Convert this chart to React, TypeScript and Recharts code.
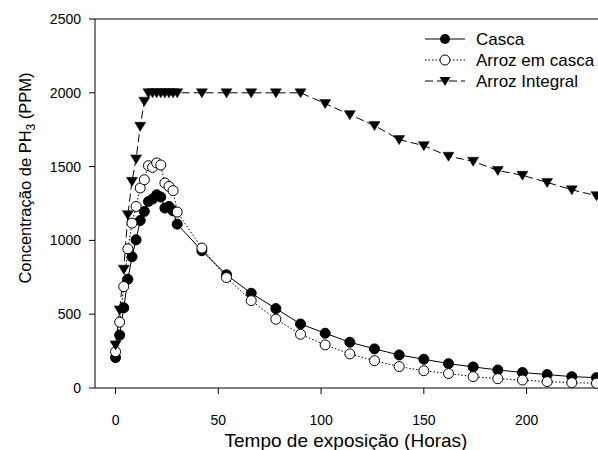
import { LineChart, Line, XAxis, YAxis, ReferenceLine } from 'recharts';

const times = [0, 2, 4, 6, 8, 10, 12, 14, 16, 18, 20, 22, 24, 26, 28, 30, 42, 54, 66, 78, 90, 102, 114, 126, 138, 150, 162, 174, 186, 198, 210, 222, 234];
const casca = [206, 358, 543, 737, 889, 1004, 1135, 1196, 1264, 1280, 1309, 1294, 1219, 1230, 1200, 1110, 930, 767, 642, 538, 434, 371, 310, 265, 224, 195, 165, 143, 122, 105, 91, 77, 70];
const arrozEmCasca = [246, 446, 687, 943, 1117, 1230, 1355, 1411, 1506, 1495, 1525, 1511, 1389, 1366, 1337, 1192, 948, 748, 592, 466, 364, 292, 231, 185, 145, 117, 98, 77, 63, 54, 43, 36, 32];
const arrozIntegral = [292, 529, 805, 1174, 1400, 1552, 1773, 1943, 2000, 2000, 2000, 2000, 2000, 2000, 2000, 2000, 2000, 2000, 2000, 2000, 2000, 1927, 1852, 1778, 1683, 1642, 1570, 1536, 1474, 1441, 1393, 1343, 1303];

const xTicks = [0, 50, 100, 150, 200];
const yTicks = [0, 500, 1000, 1500, 2000, 2500];

const data = times.map((t, i) => ({
  t,
  casca: casca[i],
  emCasca: arrozEmCasca[i],
  integral: arrozIntegral[i],
}));

const FONT = '"Liberation Sans", Arial, sans-serif';

const FilledDot = (p: any) =>
  p.cx == null ? null : <circle key={p.index} cx={p.cx} cy={p.cy} r={5} fill="#000" stroke="#000" strokeWidth={1} />;

const OpenDot = (p: any) =>
  p.cx == null ? null : <circle key={p.index} cx={p.cx} cy={p.cy} r={5} fill="#fff" stroke="#000" strokeWidth={1} />;

const triPath = (cx: number, cy: number) => `M${cx - 5.5},${cy - 4} L${cx + 5.5},${cy - 4} L${cx},${cy + 5} Z`;

const TriDot = (p: any) =>
  p.cx == null ? null : <path key={p.index} d={triPath(p.cx, p.cy)} fill="#000" stroke="#000" strokeWidth={0.5} />;

const legendRows = [
  { name: 'Casca', dash: undefined, kind: 'filled' },
  { name: 'Arroz em casca', dash: '1.5 2', kind: 'open' },
  { name: 'Arroz Integral', dash: '8 4', kind: 'tri' },
];

// legenda desenhada à parte, por cima do gráfico
function ChartLegend() {
  return (
    <svg width={178} height={64} style={{ position: 'absolute', left: 420, top: 28 }}>
      {legendRows.map((r, i) => {
        const y = 11 + i * 21;
        return (
          <g key={r.name}>
            <line x1={5} x2={45} y1={y} y2={y} stroke="#000" strokeWidth={1} strokeDasharray={r.dash} />
            {r.kind === 'filled' && <circle cx={25} cy={y} r={5} fill="#000" />}
            {r.kind === 'open' && <circle cx={25} cy={y} r={5} fill="#fff" stroke="#000" />}
            {r.kind === 'tri' && <path d={triPath(25, y)} fill="#000" />}
            <text x={56} y={y + 6} fontSize={17} fontFamily={FONT} fill="#000">
              {r.name}
            </text>
          </g>
        );
      })}
    </svg>
  );
}

const XTitle = () => (
  <text x={346} y={447} textAnchor="middle" fontSize={19} fontFamily={FONT} fill="#000">
    Tempo de exposição (Horas)
  </text>
);

const YTitle = () => (
  <text
    x={31}
    y={178}
    transform="rotate(-90, 31, 178)"
    textAnchor="middle"
    fontSize={16.5}
    fontFamily={FONT}
    fill="#000"
  >
    Concentração de PH<tspan fontSize={12} dy={4}>3</tspan>
    <tspan dy={-4}> (PPM)</tspan>
  </text>
);

export default function App() {
  return (
    <div style={{ position: 'fixed', left: 0, top: 0, width: 598, height: 450, overflow: 'hidden', background: '#fff' }}>
      <LineChart width={700} height={450} data={data} margin={{ top: 19, right: 9, bottom: 0, left: 0 }}>
        <XAxis
          type="number"
          dataKey="t"
          domain={[-10, 280]}
          ticks={xTicks}
          allowDataOverflow
          height={62}
          tickSize={6}
          tickMargin={21}
          axisLine={{ stroke: '#000' }}
          tickLine={{ stroke: '#000' }}
          tick={{ fill: '#000', fontSize: 14, fontFamily: FONT }}
          label={<XTitle />}
        />
        <YAxis
          type="number"
          domain={[0, 2500]}
          ticks={yTicks}
          width={95}
          tickSize={6}
          tickMargin={8}
          axisLine={{ stroke: '#000' }}
          tickLine={{ stroke: '#000' }}
          tick={{ fill: '#000', fontSize: 14, fontFamily: FONT }}
          label={<YTitle />}
        />
        <ReferenceLine y={2500} stroke="#000" strokeWidth={1} />
        <Line
          type="linear"
          dataKey="casca"
          name="Casca"
          stroke="#000"
          strokeWidth={1}
          dot={FilledDot}
          isAnimationActive={false}
        />
        <Line
          type="linear"
          dataKey="emCasca"
          name="Arroz em casca"
          stroke="#000"
          strokeWidth={1}
          strokeDasharray="1.5 2"
          dot={OpenDot}
          isAnimationActive={false}
        />
        <Line
          type="linear"
          dataKey="integral"
          name="Arroz Integral"
          stroke="#000"
          strokeWidth={1}
          strokeDasharray="8 4"
          dot={TriDot}
          isAnimationActive={false}
        />
      </LineChart>
      <ChartLegend />
    </div>
  );
}
